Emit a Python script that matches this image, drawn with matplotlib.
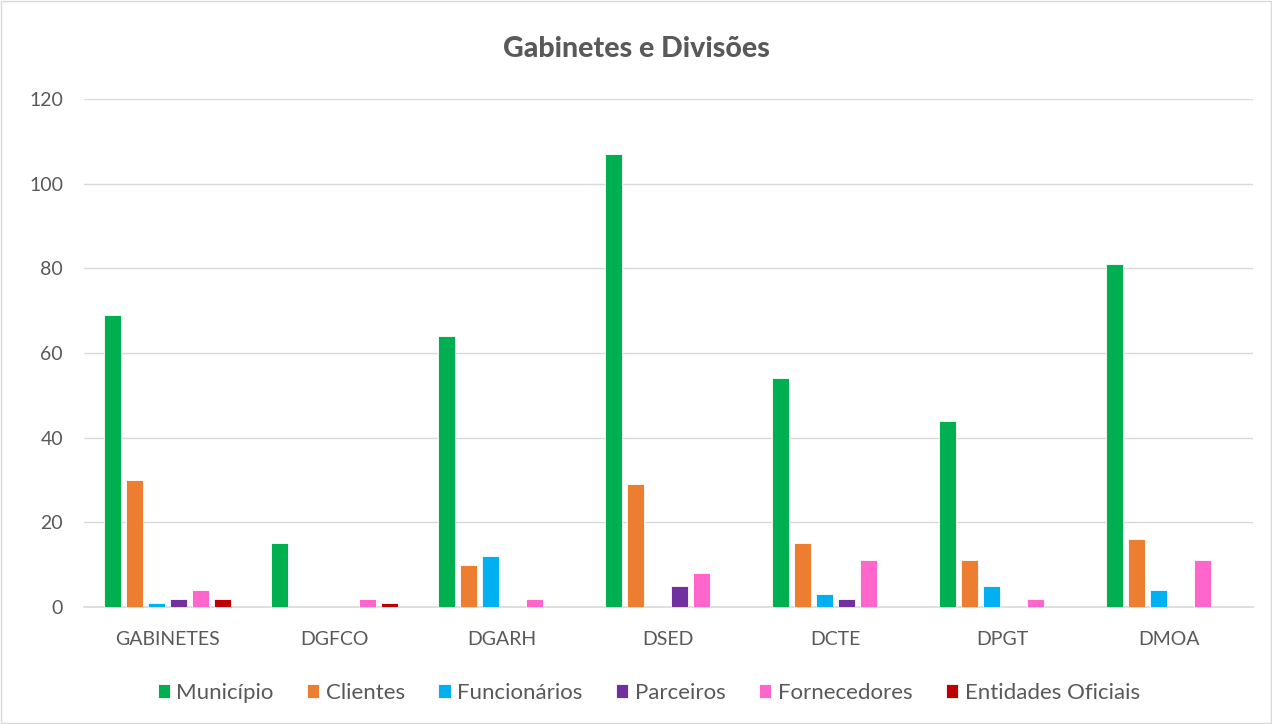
import numpy as np
import matplotlib.pyplot as plt

categories = ["GABINETES", "DGFCO", "DGARH", "DSED", "DCTE", "DPGT", "DMOA"]
series_names = ["Município", "Clientes", "Funcionários", "Parceiros",
                "Fornecedores", "Entidades Oficiais"]
municipio = [69, 15, 64, 107, 54, 44, 81]
clientes = [30, 0, 10, 29, 15, 11, 16]
funcionarios = [1, 0, 12, 0, 3, 5, 4]
parceiros = [2, 0, 0, 5, 2, 0, 0]
fornecedores = [4, 2, 2, 8, 11, 2, 11]
entidades = [2, 1, 0, 0, 0, 0, 0]
colors = ["#00B050", "#ED7D31", "#00B0F0", "#7030A0", "#FF66CC", "#C00000"]

plt.rcParams["font.family"] = ["Lato", "DejaVu Sans"]

fig = plt.figure(figsize=(12.72, 7.24), dpi=100)
ax = fig.add_axes([0.066, 0.1616, 0.919, 0.7017])

x = np.arange(len(categories))
step = 0.132
width = 0.102
all_series = [municipio, clientes, funcionarios, parceiros, fornecedores, entidades]
for i, (name, vals, col) in enumerate(zip(series_names, all_series, colors)):
    ax.bar(x + (i - 2.5) * step, vals, width, color=col, label=name,
           edgecolor="white", linewidth=0.6, zorder=3)

ax.set_xlim(-0.5, len(categories) - 0.5)
ax.set_ylim(0, 120)
ax.set_yticks(range(0, 121, 20))
ax.set_xticks(x)
ax.set_xticklabels(categories)
ax.tick_params(axis="both", length=0, labelsize=14, colors="#595959")
ax.tick_params(axis="x", pad=17)
ax.tick_params(axis="y", pad=15)
ax.grid(axis="y", color="#D9D9D9", linewidth=1, zorder=0)
for s in ["top", "right", "left"]:
    ax.spines[s].set_visible(False)
ax.spines["bottom"].set_color("#D9D9D9")
ax.spines["bottom"].set_linewidth(1.2)

fig.suptitle("Gabinetes e Divisões", x=0.5, y=0.95, fontsize=20.5,
             fontweight="black", color="#595959")

leg = fig.legend(loc="center", bbox_to_anchor=(0.51, 0.043), ncol=6,
                 frameon=False, fontsize=16, handlelength=0.55, handleheight=0.55,
                 handletextpad=0.3, columnspacing=1.5)
for t in leg.get_texts():
    t.set_color("#595959")

fig.add_artist(plt.Rectangle((0.001, 0.001), 0.998, 0.998, transform=fig.transFigure,
                             fill=False, edgecolor="#D9D9D9", linewidth=1))

plt.savefig("out.png", dpi=100)
